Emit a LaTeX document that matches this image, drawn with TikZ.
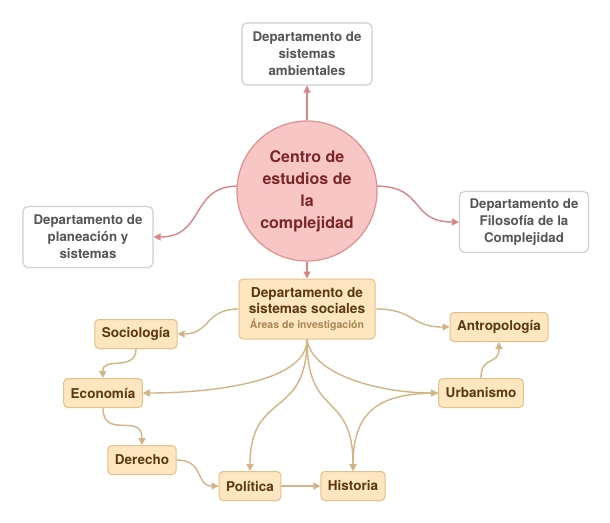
\documentclass[tikz,border=0pt]{standalone}
\usepackage{fontspec}
\setmainfont{TeX Gyre Heros}
\usetikzlibrary{arrows.meta}
\definecolor{graytxt}{HTML}{555555}
\definecolor{grayline}{HTML}{CFCFCF}
\definecolor{pinkfill}{HTML}{F9C6C6}
\definecolor{pinkborder}{HTML}{DE9090}
\definecolor{pinktxt}{HTML}{7A2626}
\definecolor{pinkline}{HTML}{D98585}
\definecolor{tanfill}{HTML}{FDE6C0}
\definecolor{tanborder}{HTML}{E4C189}
\definecolor{tanline}{HTML}{D3B585}
\definecolor{browntxt}{HTML}{5A3912}
\definecolor{subtxt}{HTML}{A8864F}
\tikzset{
  graybox/.style={draw=grayline, line width=1.2pt, rounded corners=5pt, fill=white,
    text=graytxt, font=\fontsize{13.3}{17}\selectfont\bfseries, align=center,
    minimum width=130pt, minimum height=62pt, inner sep=0pt},
  topic/.style={draw=tanborder, fill=tanfill, rounded corners=4pt, line width=1pt,
    text=browntxt, font=\fontsize{13.5}{16}\selectfont\bfseries,
    minimum height=29pt, inner xsep=7pt, inner ysep=0pt},
  pinkarrow/.style={draw=pinkline, line width=1.4pt, -{Triangle[length=7pt,width=7pt]}},
  tanarrow/.style={draw=tanline, line width=1.4pt, -{Triangle[length=7pt,width=7pt]}}
}
\begin{document}
\begin{tikzpicture}[x=1pt,y=-1pt]
\useasboundingbox[fill=white] (0,0) rectangle (610,522);

\node[circle, fill=pinkfill, draw=pinkborder, line width=1.2pt, minimum size=140pt,
  inner sep=0pt, text=pinktxt, align=center, font=\fontsize{16}{22}\selectfont\bfseries]
  (circ) at (307,191) {Centro de\\estudios de\\la\\complejidad};

\node[graybox] (amb) at (307,54) {Departamento de\\sistemas\\ambientales};
\node[graybox, minimum height=61pt] (plan) at (88,237) {Departamento de\\planeación y\\sistemas};
\node[graybox, minimum width=129pt, minimum height=61pt] (filo) at (524,222) {Departamento de\\Filosofía de la\\Complejidad};

\node[topic, minimum width=136pt, minimum height=60pt, align=center,
  font=\fontsize{13.7}{16}\selectfont\bfseries] (soc) at (307,309)
  {Departamento de\\sistemas sociales\\[-1pt]{\fontsize{10.5}{13}\selectfont\color{subtxt}Áreas de investigación}};

\node[topic] (sociol) at (136,334) {Sociología};
\node[topic] (antro) at (499,327) {Antropología};
\node[topic] (econ) at (103,393) {Economía};
\node[topic] (urb) at (481,393) {Urbanismo};
\node[topic] (der) at (142,460) {Derecho};
\node[topic] (pol) at (250,486) {Política};
\node[topic] (hist) at (353,486) {Historia};

% pink connectors
\draw[pinkarrow] (circ.north) -- (amb.south);
\draw[pinkarrow] (circ.176) .. controls (190,187) and (205,237) .. (plan.east);
\draw[pinkarrow] (circ.4) .. controls (425,187) and (410,222) .. (filo.west);
\draw[pinkarrow] (circ.south) -- (soc.north);

% tan connectors
\draw[tanarrow] (soc.west) .. controls (205,309) and (210,334) .. (sociol.east);
\draw[tanarrow] (soc.east) .. controls (415,309) and (410,327) .. (antro.west);
\draw[tanarrow] (soc.south) .. controls (307,385) and (200,393) .. (econ.east);
\draw[tanarrow] (soc.south) .. controls (312,375) and (380,393) .. (urb.west);
\draw[tanarrow] (soc.south) .. controls (307,420) and (250,390) .. (pol.north);
\draw[tanarrow] (soc.south) .. controls (307,420) and (353,390) .. (hist.north);
\draw[tanarrow] (urb.west) .. controls (380,393) and (353,410) .. (hist.north);
\draw[tanarrow] (sociol.south) .. controls (136,372) and (102,356) .. (econ.north);
\draw[tanarrow] (econ.south) .. controls (103,440) and (142,412) .. (der.north);
\draw[tanarrow] (der.east) .. controls (205,460) and (195,486) .. (pol.west);
\draw[tanarrow] (pol.east) -- (hist.west);
\draw[tanarrow] (urb.north) .. controls (481,355) and (499,366) .. (antro.south);
\end{tikzpicture}
\end{document}
